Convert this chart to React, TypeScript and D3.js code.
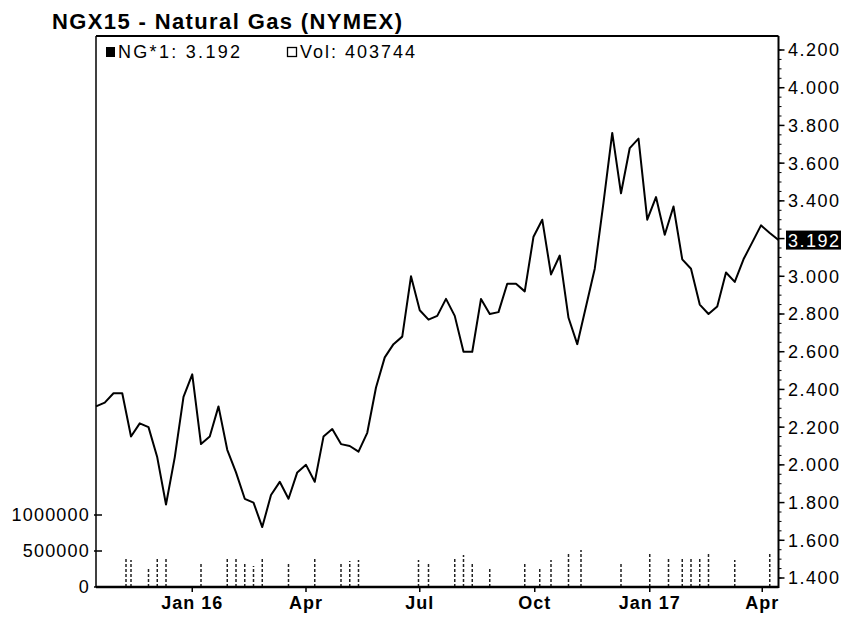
import React, { useEffect, useRef } from "react";
import * as d3 from "d3";

// weekly settlement (NG*1)
const priceDates = [
    "2015-10-16", "2015-10-23", "2015-10-30", "2015-11-06", "2015-11-13", "2015-11-20", "2015-11-27",
    "2015-12-04", "2015-12-11", "2015-12-18", "2015-12-25",
    "2016-01-01", "2016-01-08", "2016-01-15", "2016-01-22", "2016-01-29", "2016-02-05", "2016-02-12",
    "2016-02-19", "2016-02-26", "2016-03-04", "2016-03-11", "2016-03-18", "2016-03-25", "2016-04-01",
    "2016-04-08", "2016-04-15", "2016-04-22", "2016-04-29", "2016-05-06", "2016-05-13", "2016-05-20",
    "2016-05-27", "2016-06-03", "2016-06-10", "2016-06-17", "2016-06-24", "2016-07-01", "2016-07-08",
    "2016-07-15", "2016-07-22", "2016-07-29", "2016-08-05", "2016-08-12", "2016-08-19", "2016-08-26",
    "2016-09-02", "2016-09-09", "2016-09-16", "2016-09-23", "2016-09-30", "2016-10-07", "2016-10-14",
    "2016-10-21", "2016-10-28", "2016-11-04", "2016-11-11", "2016-11-18", "2016-11-25", "2016-12-02",
    "2016-12-09", "2016-12-16", "2016-12-23", "2016-12-30",
    "2017-01-06", "2017-01-13", "2017-01-20", "2017-01-27", "2017-02-03", "2017-02-10", "2017-02-17",
    "2017-02-24", "2017-03-03", "2017-03-10", "2017-03-17", "2017-03-24", "2017-03-31", "2017-04-07",
    "2017-04-14"
];
const prices = [
    2.31, 2.33, 2.38, 2.38, 2.15, 2.22, 2.20, 2.04, 1.79, 2.04, 2.36,
    2.48, 2.11, 2.15, 2.31, 2.08, 1.96, 1.82, 1.80, 1.67, 1.84, 1.91, 1.82, 1.96, 2.00,
    1.91, 2.15, 2.19, 2.11, 2.10, 2.07, 2.17, 2.41, 2.57, 2.64, 2.68, 3.00, 2.82, 2.77,
    2.79, 2.88, 2.79, 2.60, 2.60, 2.88, 2.80, 2.81, 2.96, 2.96, 2.92, 3.21, 3.30, 3.01,
    3.11, 2.78, 2.64, 2.84, 3.04, 3.39, 3.76, 3.44, 3.68, 3.73, 3.30,
    3.42, 3.22, 3.37, 3.09, 3.04, 2.85, 2.80, 2.84, 3.02, 2.97, 3.09, 3.18, 3.27, 3.23,
    3.192
];

// volume spikes
const volDates = [
    "2015-11-09", "2015-11-13", "2015-11-27", "2015-12-04", "2015-12-11", "2016-01-08", "2016-01-29",
    "2016-02-05", "2016-02-12", "2016-02-19", "2016-02-26", "2016-03-18", "2016-04-08", "2016-04-29",
    "2016-05-06", "2016-05-13", "2016-06-30", "2016-07-08", "2016-07-29", "2016-08-05", "2016-08-12",
    "2016-08-26", "2016-09-23", "2016-10-05", "2016-10-14", "2016-10-28", "2016-11-07", "2016-12-09",
    "2017-01-01", "2017-01-16", "2017-01-27", "2017-02-03", "2017-02-10", "2017-02-17", "2017-03-10",
    "2017-04-07"
];
const volumes = [
    400000, 375000, 264000, 400000, 400000, 347000, 400000,
    400000, 333000, 290000, 400000, 333000, 389000, 333000,
    361000, 375000, 375000, 347000, 389000, 444000, 333000,
    278000, 333000, 278000, 375000, 472000, 514000, 347000,
    472000, 400000, 400000, 400000, 400000, 486000, 375000,
    458000
];

const priceTicks = [1.4, 1.6, 1.8, 2.0, 2.2, 2.4, 2.6, 2.8, 3.0, 3.2, 3.4, 3.6, 3.8, 4.0, 4.2];
const volTicks = [0, 500000, 1000000];
const monthTicks = ["2016-01-01", "2016-04-01", "2016-07-01", "2016-10-01", "2017-01-01", "2017-04-01"];
const monthLabels = ["Jan 16", "Apr", "Jul", "Oct", "Jan 17", "Apr"];

const title = "NGX15 - Natural Gas (NYMEX)";
const lastPrice = 3.192;
const lastVolume = 403744;

const FONT = "'Liberation Sans', Arial, Helvetica, sans-serif";

function drawChart(node: SVGSVGElement) {
    const parse = d3.utcParse("%Y-%m-%d");
    const left = 96, right = 778.5, top = 36, bottom = 587;

    const x = d3.scaleUtc()
        .domain([parse("2015-10-16")!, parse("2017-04-14")!])
        .range([left, right]);
    const y = d3.scaleLinear().domain([1.4, 4.2]).range([578, 50]);
    const yVol = d3.scaleLinear().domain([0, 1000000]).range([bottom, 515]);

    const svg = d3.select(node);
    svg.selectAll("*").remove();

    svg.append("rect").attr("width", 845).attr("height", 617).attr("fill", "#fff");

    // volume spikes, drawn broken like the print
    svg.append("g")
        .selectAll("line")
        .data(volDates.map((d, i) => ({ date: parse(d)!, v: volumes[i] })))
        .enter()
        .append("line")
        .attr("x1", d => x(d.date))
        .attr("x2", d => x(d.date))
        .attr("y1", yVol(0))
        .attr("y2", d => yVol(d.v))
        .attr("stroke", "#222")
        .attr("stroke-width", 1.5)
        .attr("stroke-dasharray", "3 2");

    // price line
    const line = d3.line<[Date, number]>()
        .x(d => x(d[0]))
        .y(d => y(d[1]));
    svg.append("path")
        .datum(priceDates.map((d, i) => [parse(d)!, prices[i]] as [Date, number]))
        .attr("d", line)
        .attr("fill", "none")
        .attr("stroke", "#000")
        .attr("stroke-width", 2)
        .attr("stroke-linejoin", "round");

    // frame
    const frame = svg.append("g").attr("stroke", "#000").attr("fill", "none");
    frame.append("line").attr("x1", left).attr("x2", right).attr("y1", top).attr("y2", top).attr("stroke-width", 2);
    frame.append("line").attr("x1", left).attr("x2", left).attr("y1", top).attr("y2", bottom).attr("stroke-width", 1.5);
    frame.append("line").attr("x1", right).attr("x2", right).attr("y1", top).attr("y2", bottom + 1).attr("stroke-width", 2);
    frame.append("line").attr("x1", left).attr("x2", right).attr("y1", bottom).attr("y2", bottom).attr("stroke-width", 2.5);

    // right price axis
    const minor = d3.range(1.4, 4.2001, 0.05);
    svg.append("g").selectAll("line").data(minor).enter().append("line")
        .attr("x1", right).attr("x2", right + 3)
        .attr("y1", d => y(d)).attr("y2", d => y(d))
        .attr("stroke", "#000").attr("stroke-width", 1);
    svg.append("g").selectAll("line").data(priceTicks).enter().append("line")
        .attr("x1", right).attr("x2", right + 6)
        .attr("y1", d => y(d)).attr("y2", d => y(d))
        .attr("stroke", "#000").attr("stroke-width", 1.5);
    svg.append("g").selectAll("text")
        .data(priceTicks.filter(d => Math.abs(d - 3.2) > 1e-6))
        .enter().append("text")
        .attr("x", 788)
        .attr("y", d => y(d))
        .attr("dy", "0.36em")
        .attr("font-family", FONT)
        .attr("font-size", 18)
        .attr("textLength", 51)
        .attr("lengthAdjust", "spacing")
        .text(d => d3.format(".3f")(d));

    // last price box
    svg.append("rect")
        .attr("x", 786).attr("y", y(lastPrice) - 9.5)
        .attr("width", 55).attr("height", 19)
        .attr("fill", "#000");
    svg.append("text")
        .attr("x", 788).attr("y", y(lastPrice)).attr("dy", "0.36em")
        .attr("font-family", FONT).attr("font-size", 18)
        .attr("textLength", 51).attr("lengthAdjust", "spacing")
        .attr("fill", "#fff")
        .text(lastPrice.toFixed(3));

    // left volume axis
    svg.append("g").selectAll("line").data(volTicks).enter().append("line")
        .attr("x1", left - 2).attr("x2", left + 6)
        .attr("y1", d => yVol(d)).attr("y2", d => yVol(d))
        .attr("stroke", "#000").attr("stroke-width", 1.5);
    svg.append("g").selectAll("text").data(volTicks).enter().append("text")
        .attr("x", 90)
        .attr("y", d => yVol(d))
        .attr("dy", "0.36em")
        .attr("text-anchor", "end")
        .attr("font-family", FONT)
        .attr("font-size", 18)
        .attr("letter-spacing", 1.2)
        .text(d => String(d));

    // bottom time axis
    const mt = monthTicks.map(d => parse(d)!);
    svg.append("g").selectAll("line").data(mt).enter().append("line")
        .attr("x1", d => x(d)).attr("x2", d => x(d))
        .attr("y1", bottom).attr("y2", bottom + 5)
        .attr("stroke", "#000").attr("stroke-width", 1.5);
    svg.append("g").selectAll("text").data(mt).enter().append("text")
        .attr("x", d => x(d))
        .attr("y", 609)
        .attr("text-anchor", "middle")
        .attr("font-family", FONT)
        .attr("font-size", 18)
        .attr("font-weight", "bold")
        .attr("letter-spacing", 1)
        .text((d, i) => monthLabels[i]);

    // title
    svg.append("text")
        .attr("x", 52).attr("y", 29)
        .attr("font-family", FONT)
        .attr("font-size", 22)
        .attr("font-weight", "bold")
        .attr("textLength", 350)
        .attr("lengthAdjust", "spacing")
        .text(title);

    // legend
    const legend = svg.append("g").attr("font-family", FONT).attr("font-size", 18);
    legend.append("rect").attr("x", 106).attr("y", 47).attr("width", 9).attr("height", 10).attr("fill", "#000");
    legend.append("text").attr("x", 118).attr("y", 58)
        .attr("textLength", 122).attr("lengthAdjust", "spacing")
        .text("NG*1: " + lastPrice.toFixed(3));
    legend.append("rect").attr("x", 287.5).attr("y", 47.5).attr("width", 9).attr("height", 9)
        .attr("fill", "none").attr("stroke", "#000").attr("stroke-width", 1.3);
    legend.append("text").attr("x", 300).attr("y", 58)
        .attr("textLength", 115).attr("lengthAdjust", "spacing")
        .text("Vol: " + lastVolume);
}

export default function App() {
    const ref = useRef<SVGSVGElement>(null);

    useEffect(() => {
        if (ref.current) drawChart(ref.current);
    }, []);

    return (
        <div style={{ position: "absolute", left: 0, top: 0 }}>
            <svg ref={ref} width={845} height={617} style={{ display: "block" }} />
        </div>
    );
}
